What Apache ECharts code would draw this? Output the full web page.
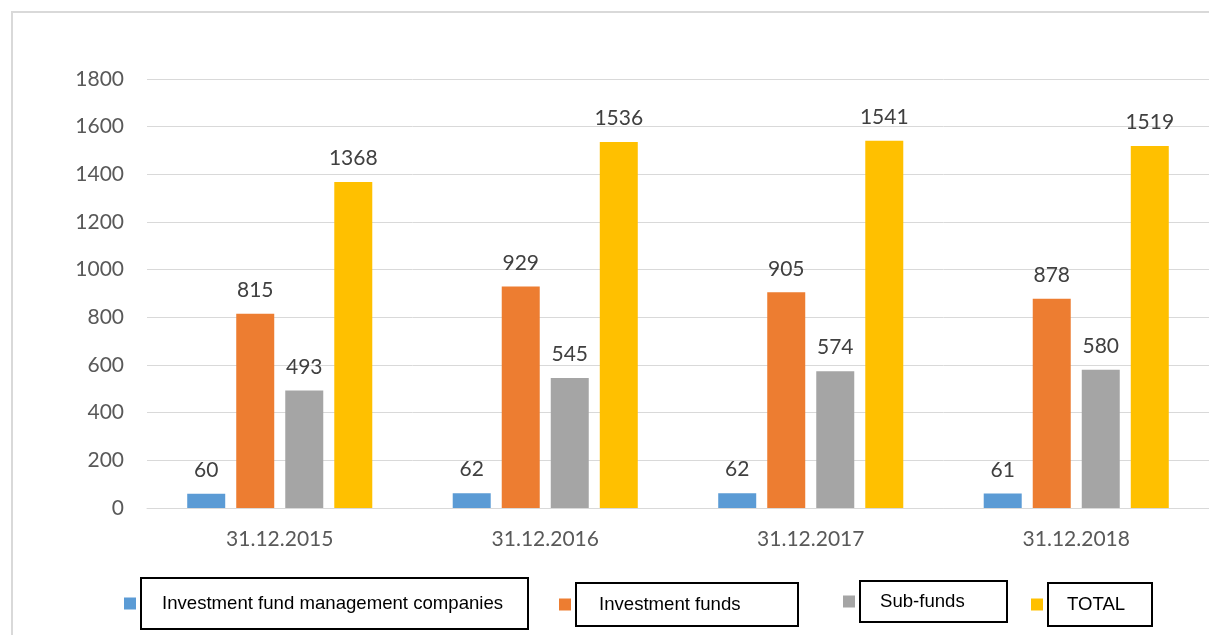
<!DOCTYPE html>
<html>
<head>
<meta charset="utf-8">
<script src="https://cdn.jsdelivr.net/npm/echarts@6/dist/echarts.min.js"></script>
<style>
  html, body { margin: 0; padding: 0; background: #fff; }
  #chart { width: 1209px; height: 635px; }
</style>
</head>
<body>
<div id="chart"></div>
<script>
// data
var categories = ['31.12.2015', '31.12.2016', '31.12.2017', '31.12.2018'];
var seriesNames = ['Investment fund management companies', 'Investment funds', 'Sub-funds', 'TOTAL'];
var managementCompanies = [60, 62, 62, 61];
var investmentFunds = [815, 929, 905, 878];
var subFunds = [493, 545, 574, 580];
var totals = [1368, 1536, 1541, 1519];
var colors = ['#5b9bd5', '#ed7d31', '#a5a5a5', '#ffc000'];

var chart = echarts.init(document.getElementById('chart'));

// one legend per item, each with its own boxed label
var legendBoxes = [
  { left: 124, top: 577, width: 366, height: 50, pad: [1, 0, 0, 21] },
  { left: 559, top: 582, width: 199, height: 40, pad: [3, 0, 0, 23] },
  { left: 843, top: 580, width: 127, height: 40, pad: [1, 0, 0, 20] },
  { left: 1031, top: 582, width: 85, height: 40, pad: [3, 0, 0, 19] }
];

function makeSeries(name, values, color) {
  return {
    name: name,
    type: 'bar',
    data: values,
    barWidth: 38,
    barGap: '29%',
    itemStyle: { color: color },
    label: {
      show: true,
      position: 'top',
      distance: 13,
      color: '#404040',
      fontFamily: 'Lato',
      fontSize: 21
    }
  };
}

var option = {
  backgroundColor: '#fff',
  animation: false,
  grid: { left: 147, right: 0, top: 79, bottom: 127 },
  legend: legendBoxes.map(function (b, i) {
    return {
      data: [seriesNames[i]],
      left: b.left,
      top: b.top,
      icon: 'rect',
      itemWidth: 12,
      itemHeight: 12,
      selectedMode: false,
      padding: 0,
      textStyle: {
        color: '#000',
        fontFamily: 'Liberation Sans',
        fontSize: 18.6,
        width: b.width,
        height: b.height,
        padding: b.pad,
        borderColor: '#000',
        borderWidth: 2,
        verticalAlign: 'top'
      }
    };
  }),
  xAxis: {
    type: 'category',
    data: categories,
    axisLine: { lineStyle: { color: '#d9d9d9', width: 1 } },
    axisTick: { show: false },
    axisLabel: { color: '#595959', fontFamily: 'Lato', fontSize: 21, margin: 21 }
  },
  yAxis: {
    type: 'value',
    min: 0,
    max: 1800,
    interval: 200,
    axisLine: { show: false },
    axisTick: { show: false },
    splitLine: { lineStyle: { color: '#d9d9d9', width: 1 } },
    axisLabel: {
      color: '#595959',
      fontFamily: 'Lato',
      fontSize: 21,
      margin: 23,
      formatter: function (v) { return String(v); }
    }
  },
  graphic: [{
    type: 'rect',
    shape: { x: 12, y: 12, width: 1400, height: 800 },
    style: { fill: 'none', stroke: '#d9d9d9', lineWidth: 2 },
    silent: true
  }],
  series: [
    makeSeries(seriesNames[0], managementCompanies, colors[0]),
    makeSeries(seriesNames[1], investmentFunds, colors[1]),
    makeSeries(seriesNames[2], subFunds, colors[2]),
    makeSeries(seriesNames[3], totals, colors[3])
  ]
};

chart.setOption(option);
</script>
</body>
</html>
